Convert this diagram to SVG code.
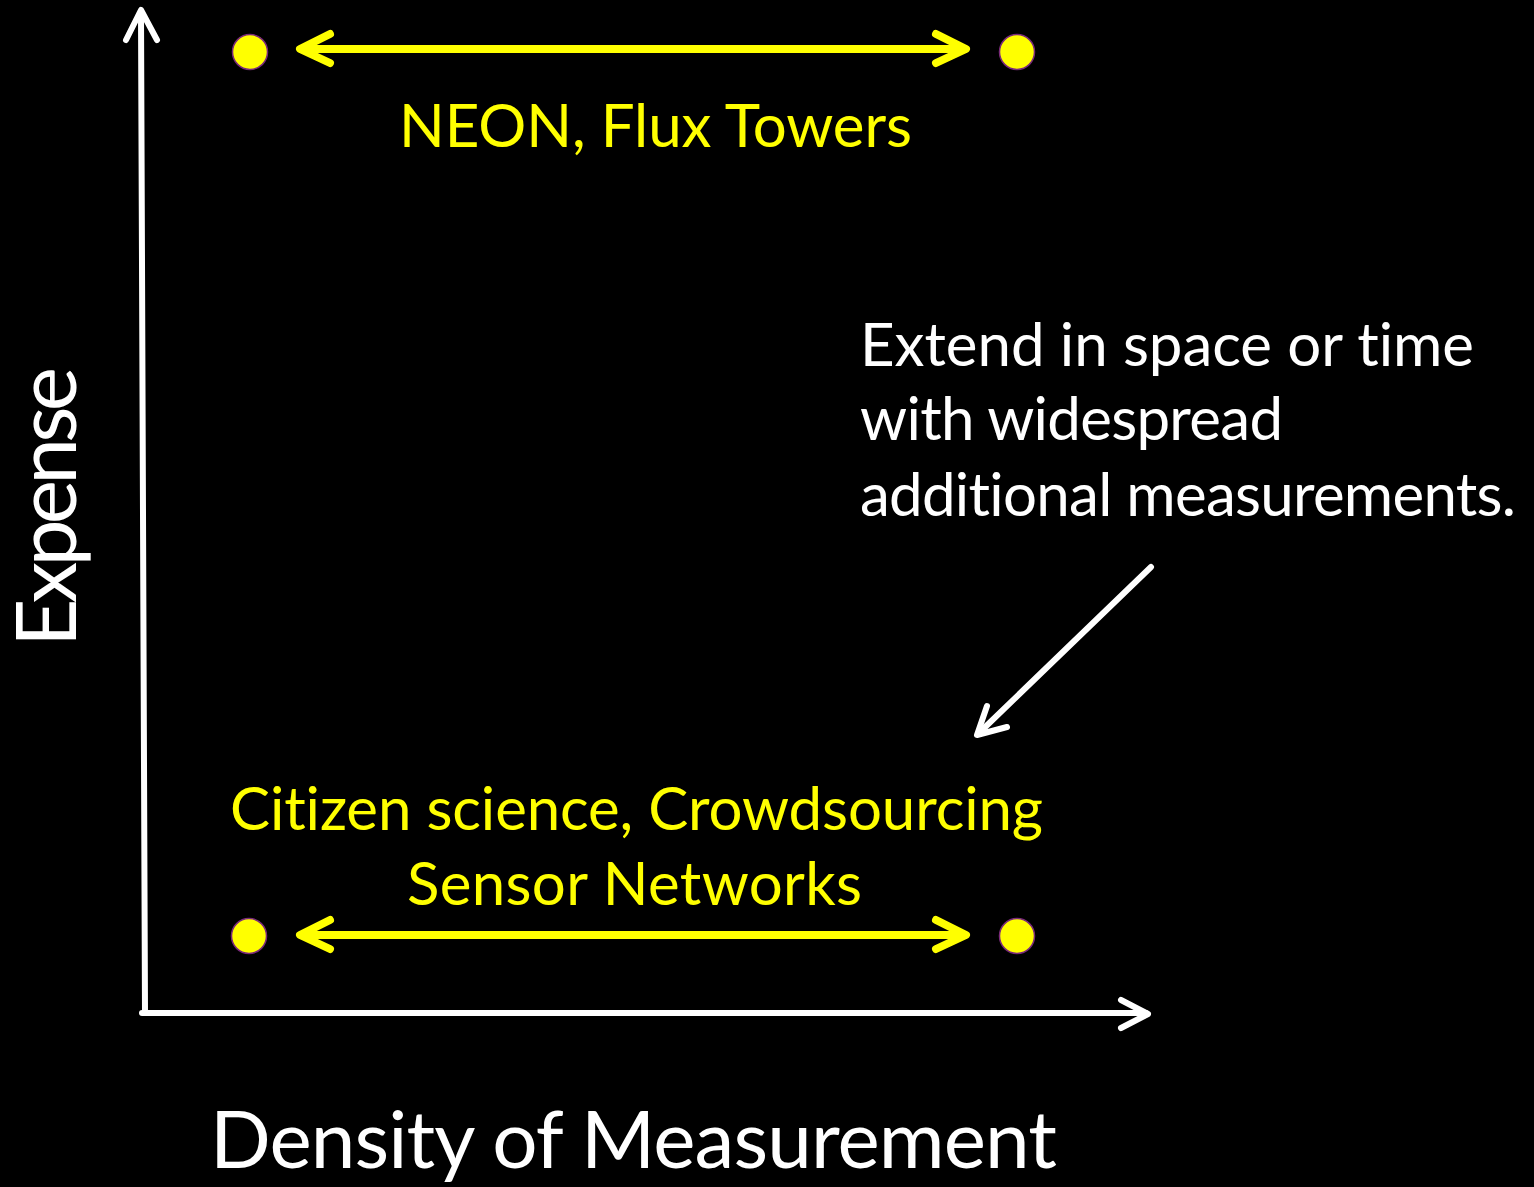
<svg xmlns="http://www.w3.org/2000/svg" width="1534" height="1187" viewBox="0 0 1534 1187">
  <style>
    .lbl { font-family: "Lato", "Open Sans", "Liberation Sans", sans-serif; font-variant-ligatures: none; }
    .y { fill: #FFFF00; }
    .w { fill: #FFFFFF; }
    .dot { fill: #FFFF00; stroke: #7A2A7A; stroke-width: 1.5; }
    .ya { fill: none; stroke: #FFFF00; stroke-width: 8; stroke-linecap: round; stroke-linejoin: round; }
    .wa { fill: none; stroke: #FFFFFF; stroke-width: 6; stroke-linecap: round; stroke-linejoin: round; }
  </style>
  <rect x="0" y="0" width="1534" height="1187" fill="#000000"/>

  <g id="connectors">
    <!-- vertical axis -->
    <path class="wa" d="M145,1013 L141,14" stroke-linecap="butt"/>
    <polyline class="wa" points="126,40 141,10 157,40"/>
    <!-- horizontal axis -->
    <path class="wa" d="M142,1013 L1146,1013" stroke-linecap="butt"/>
    <polyline class="wa" points="1121,1000 1148,1014 1121,1028"/>
    <!-- top yellow double arrow -->
    <path class="ya" d="M302,49 L964,49" stroke-linecap="butt"/>
    <polyline class="ya" points="330,34 300,49 330,63"/>
    <polyline class="ya" points="936,34 966,49 936,63"/>
    <!-- bottom yellow double arrow -->
    <path class="ya" d="M302,935 L964,935" stroke-linecap="butt"/>
    <polyline class="ya" points="330,920 300,935 330,949"/>
    <polyline class="ya" points="936,920 966,935 936,949"/>
    <!-- diagonal pointer arrow -->
    <path class="wa" d="M1151,567 L979,733" stroke-linecap="butt"/>
    <polyline class="wa" points="987,706 977,735 1007,727"/>
  </g>

  <g id="node-dot-top-left"><circle class="dot" cx="250" cy="52" r="17.5"/></g>
  <g id="node-dot-top-right"><circle class="dot" cx="1017" cy="52" r="17.5"/></g>
  <g id="node-dot-bottom-left"><circle class="dot" cx="249" cy="936" r="17.5"/></g>
  <g id="node-dot-bottom-right"><circle class="dot" cx="1017" cy="936" r="17.5"/></g>

  <g id="node-neon">
    <text class="lbl y" x="399" y="147" font-size="60" textLength="513">NEON, Flux Towers</text>
  </g>
  <g id="node-extend">
    <text class="lbl w" x="860" y="366" font-size="60" textLength="614">Extend in space or time</text>
    <text class="lbl w" x="860" y="440" font-size="60" textLength="423">with widespread</text>
    <text class="lbl w" x="860" y="516" font-size="60" textLength="656">additional measurements.</text>
  </g>
  <g id="node-citizen">
    <text class="lbl y" x="230" y="830" font-size="60" textLength="813">Citizen science, Crowdsourcing</text>
    <text class="lbl y" x="407" y="905" font-size="60" textLength="455">Sensor Networks</text>
  </g>
  <g id="node-x-label">
    <text class="lbl w" x="210" y="1168" font-size="80" textLength="847">Density of Measurement</text>
  </g>
  <g id="node-y-label">
    <text class="lbl w" transform="translate(76,647) rotate(-90)" x="0" y="0" font-size="84" textLength="280">Expense</text>
  </g>
</svg>
